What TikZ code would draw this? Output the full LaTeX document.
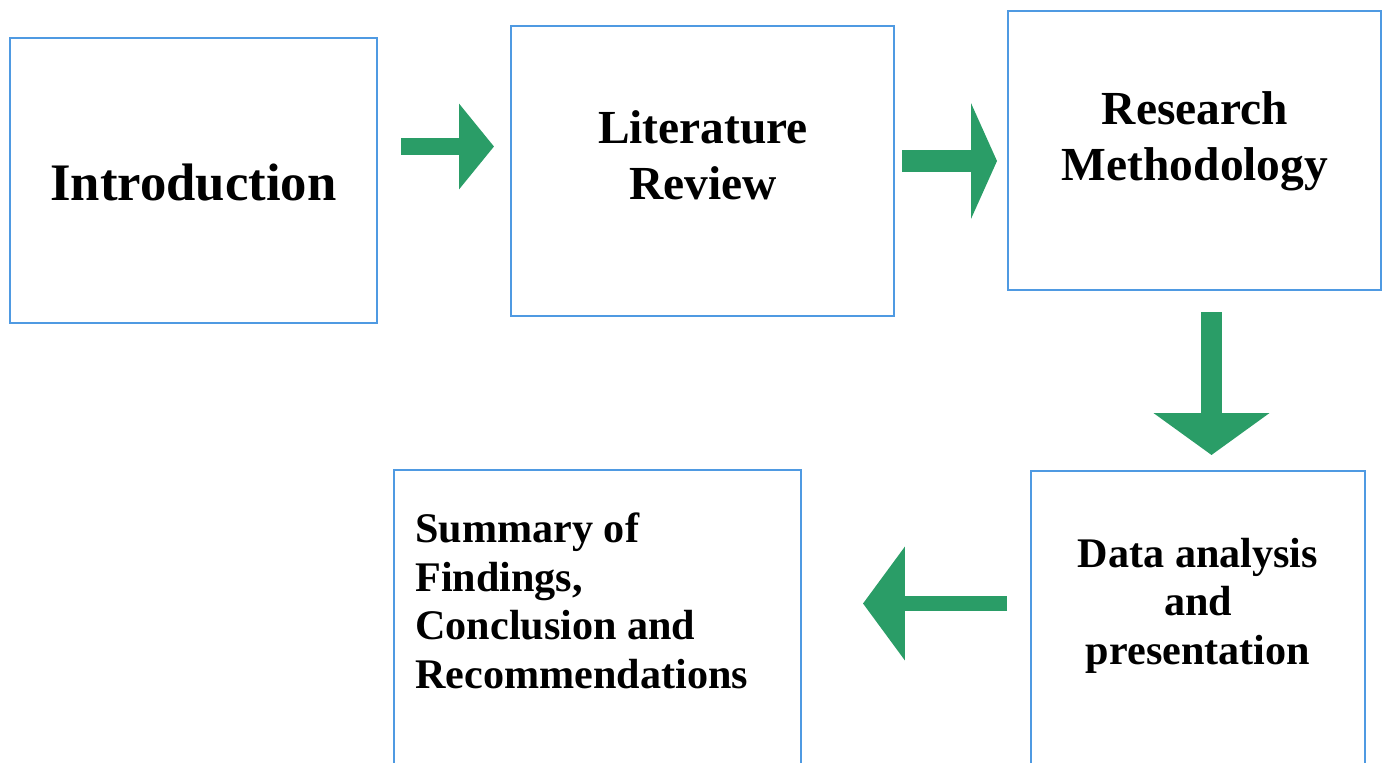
\documentclass[tikz,border=0pt]{standalone}
\usepackage{fontspec}
\setmainfont{Liberation Serif}
\usetikzlibrary{arrows.meta}
\definecolor{boxblue}{RGB}{79,154,226}
\definecolor{arrowgreen}{RGB}{42,157,103}
\definecolor{arrowedge}{RGB}{32,128,82}
\begin{document}
\begin{tikzpicture}[x=0.02cm, y=-0.02cm,
    stagebox/.style 2 args={draw=boxblue, line width=1.1pt, inner sep=0pt, minimum width=#1, minimum height=#2},
    boxtext/.style={inner sep=0pt, align=center, font=\fontsize{27}{31.5}\selectfont\bfseries},
    smalltext/.style={inner sep=0pt, font=\fontsize{24}{27.6}\selectfont\bfseries},
    bigarrow/.style n args={3}{draw=arrowgreen, line width=#1, -{Triangle[length=#2, width=#3, fill=arrowgreen, color=arrowgreen]}}]
\clip (0,0) rectangle (1387,762);
% boxes
\node[stagebox={7.34cm}{5.70cm}] (intro) at (193.5,180.5) {};
\node[stagebox={7.66cm}{5.80cm}] (litrev) at (702.5,171) {};
\node[stagebox={7.46cm}{5.58cm}] (method) at (1194.5,150.5) {};
\node[stagebox={6.68cm}{6.38cm}] (data) at (1198,630.5) {};
\node[stagebox={8.14cm}{6.40cm}] (summary) at (597.5,630) {};
% texts (base = last line)
\node[inner sep=0pt, font=\fontsize{30}{34}\selectfont\bfseries, anchor=base] (introtext) at (193.5,200) {Introduction};
\node[boxtext, anchor=base] (litrevtext) at (703,199) {Literature\\Review};
\node[boxtext, anchor=base] (methodtext) at (1195,180) {Research\\Methodology};
\node[smalltext, align=center, anchor=base] (datatext) at (1198,664) {Data analysis\\and\\presentation};
\node[smalltext, align=left, anchor=base west] (summarytext) at (415,688) {Summary of\\Findings,\\Conclusion and\\Recommendations};
% arrows
\coordinate (a1s) at (401,146.5);  \coordinate (a1e) at (494,146.5);
\coordinate (a2s) at (902,161);    \coordinate (a2e) at (997,161);
\coordinate (a3s) at (1211.5,312); \coordinate (a3e) at (1211.5,455);
\coordinate (a4s) at (1007,603.5); \coordinate (a4e) at (863,603.5);
\draw[bigarrow={0.34cm}{0.7cm}{1.68cm}] (a1s) -- (a1e);
\draw[bigarrow={0.44cm}{0.52cm}{2.3cm}] (a2s) -- (a2e);
\draw[bigarrow={0.42cm}{0.84cm}{2.28cm}] (a3s) -- (a3e);
\draw[bigarrow={0.3cm}{0.84cm}{2.24cm}] (a4s) -- (a4e);
\end{tikzpicture}
\end{document}
